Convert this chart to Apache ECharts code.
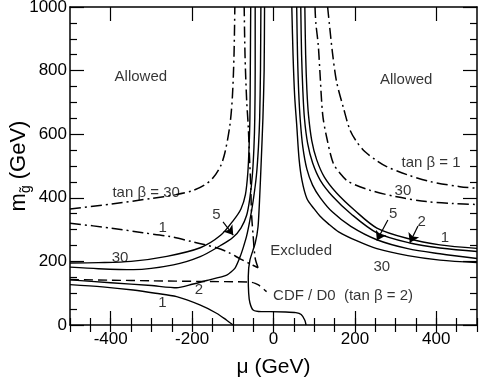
<!DOCTYPE html>
<html>
<head>
<meta charset="utf-8">
<script src="https://cdn.jsdelivr.net/npm/echarts@6/dist/echarts.min.js"></script>
<style>
  html, body { margin: 0; padding: 0; background: #fff; }
  #chart { width: 479px; height: 382px; }
</style>
</head>
<body>
<div id="chart"></div>
<script>
// tick values
var xMajor = [-400, -200, 0, 200, 400]

// solid contours (tan beta = 30, 5, 2, 1), right branch
var r30 = [[45,1000],[48,850],[52,720],[57,630],[63,520],[70,455],[82,398],[100,365],[114,343],[135,318],[160,293],[204,265],[254,240],[330,218],[409,204],[500,196]]
var r5 = [[57,1000],[59,850],[62,730],[66,640],[72,560],[82,490],[96,440],[115,400],[145,355],[190,310],[254,268],[330,240],[409,224],[500,209]]
var r2 = [[67,1000],[69,850],[72,740],[76,650],[84,570],[96,510],[115,455],[145,405],[190,350],[254,290],[335,258],[409,242],[500,231]]
var r1 = [[77,1000],[79,850],[82,740],[86,660],[94,580],[106,520],[125,465],[155,415],[200,360],[254,305],[330,272],[409,252],[500,241]]

// solid contours, left branch
var lUpper = [[-56,1000],[-57,800],[-58,650],[-60,560],[-63,480],[-69,410],[-80,365],[-98,330],[-130,282],[-180,243],[-262,216],[-350,200],[-430,196],[-500,195]]
var lLower = [[-45,1000],[-45,800],[-46,650],[-48,560],[-52,470],[-58,400],[-66,345],[-80,305],[-100,275],[-130,250],[-180,215],[-246,189],[-344,174],[-430,177],[-500,182]]
var l2 = [[-31,1000],[-32,800],[-34,650],[-37,560],[-42,470],[-50,390],[-58,330],[-66,280],[-74,245],[-82,215],[-95,178],[-115,157],[-164,140],[-200,128],[-238,117],[-300,124],[-400,133],[-500,142]]
var l1 = [[-500,127],[-420,120],[-345,110],[-290,100],[-238,89],[-181,63],[-140,37],[-115,15],[-99,0]]
var excluded = [[-22,1000],[-23,800],[-26,650],[-30,520],[-34,400],[-38,309],[-45,257],[-58,204],[-62,152],[-61,100],[-58,70],[-50,47],[-30,42],[-9,42],[30,41],[55,39],[68,33],[77,15],[80,0]]

// CDF/D0 limit
var cdf = [[-500,143],[-400,141],[-300,139],[-181,137],[-58,135],[-45,131],[-37,126],[-27,116],[-17,105]]

// dash-dot contours
var dd30Left = [[-500,365],[-400,380],[-300,398],[-240,410],[-200,422],[-170,440],[-149,462],[-130,500],[-119,544],[-107,630],[-101,718],[-97,850],[-95,1000]]
var dd1Left = [[-500,320],[-400,305],[-321,290],[-254,278],[-200,262],[-164,251],[-140,243],[-110,228],[-82,208],[-60,194],[-38,180]]
var dd1LeftUp = [[-38,180],[-45,210],[-50,280],[-54,352],[-56,440],[-59,529],[-62,624],[-66,708],[-70,850],[-72,1000]]
var dd30Right = [[102,1000],[104,950],[110,880],[114,797],[121,660],[131,588],[147,508],[165,475],[184,451],[237,424],[303,403],[376,388],[442,382],[500,379]]
var dd1Right = [[133,1000],[137,950],[145,855],[155,765],[172,682],[188,613],[205,575],[225,545],[250,520],[278,498],[330,472],[385,451],[458,435],[500,430]]

// text labels [x, y, text]
var notes = [
    [-326, 780, 'Allowed'],
    [326, 770, 'Allowed'],
    [387, 509, 'tan β = 1'],
    [318, 421, '30'],
    [-313, 415, 'tan β = 30'],
    [-272, 305, '1'],
    [-377, 211, '30'],
    [-140, 346, '5'],
    [-183, 110, '2'],
    [-273, 70, '1'],
    [68, 233, 'Excluded'],
    [266, 183, '30'],
    [294, 349, '5'],
    [364, 325, '2'],
    [421, 273, '1']
]
var cdfNote = [-1, 91, 'CDF / D0  (tan β = 2)']

// arrows [x0, y0, x1, y1]
var arrows = [
    [-124, 324, -99, 283],
    [281, 330, 254, 266],
    [355, 311, 335, 259]
]

var myChart = echarts.init(document.getElementById('chart'))
var font = 'Liberation Sans, Arial, Helvetica, sans-serif'

function solid(d, extra) {
    var s = {
        type: 'line', data: d, symbol: 'none', smooth: 0.3, silent: true,
        xAxisIndex: 0, yAxisIndex: 0,
        lineStyle: { color: '#000', width: 1.4 }
    }
    return Object.assign(s, extra || {})
}
function dashdot(d) {
    return solid(d, { lineStyle: { color: '#000', width: 1.5, type: [11, 4, 2, 4] } })
}

var xBase = {
    type: 'value', min: -500, max: 500,
    splitLine: { show: false },
    axisLine: { onZero: false, lineStyle: { color: '#000', width: 1.5 } }
}
function xMaj(pos, labels) {
    return Object.assign({}, xBase, {
        position: pos,
        axisTick: { inside: true, length: 14, customValues: xMajor, lineStyle: { color: '#000', width: 1.2 } },
        axisLabel: labels ? { customValues: xMajor, fontSize: 17, color: '#000', margin: 6, fontFamily: font } : { show: false }
    })
}
function xMin(pos) {
    return Object.assign({}, xBase, {
        position: pos, interval: 50,
        axisLine: { show: false },
        axisTick: { inside: true, length: 7, lineStyle: { color: '#000', width: 1.2 } },
        axisLabel: { show: false }
    })
}
function yAx(pos, labels) {
    return {
        type: 'value', min: 0, max: 1000, interval: 200, position: pos,
        splitLine: { show: false },
        axisLine: { onZero: false, lineStyle: { color: '#000', width: 1.5 } },
        axisTick: { inside: true, length: 14, lineStyle: { color: '#000', width: 1.2 } },
        minorTick: { show: true, splitNumber: 4, length: 7, lineStyle: { color: '#000', width: 1.2 } },
        axisLabel: labels ? {
            fontSize: 17, color: '#000', margin: 3, fontFamily: font,
            formatter: function (v) { return String(v) }
        } : { show: false }
    }
}

var xBottom = xMaj('bottom', true)
xBottom.name = 'μ (GeV)'
xBottom.nameLocation = 'middle'
xBottom.nameGap = 32
xBottom.nameTextStyle = { fontSize: 21, color: '#000', fontFamily: font }

var yLeft = yAx('left', true)
yLeft.name = '{m|m}{s|g̃}{m| (GeV)}'
yLeft.nameLocation = 'middle'
yLeft.nameGap = 37
yLeft.nameMoveOverlap = false
yLeft.nameTextStyle = {
    color: '#000', fontFamily: font,
    rich: {
        m: { fontSize: 22, color: '#000', fontFamily: font },
        s: { fontSize: 14, color: '#000', fontFamily: font, padding: [14, 0, 0, 0] }
    }
}

var option = {
    animation: false,
    grid: { left: 70, right: 2, top: 7, bottom: 57, containLabel: false, outerBoundsMode: 'none' },
    xAxis: [xBottom, xMin('bottom'), xMaj('top', false), xMin('top')],
    yAxis: [yLeft, yAx('right', false)],
    series: [
        solid(r30), solid(r5), solid(r2), solid(r1),
        solid(lUpper), solid(lLower), solid(l2, { smooth: 0.2 }), solid(l1),
        solid(excluded, {
            smooth: 0.2,
            markLine: {
                silent: true, animation: false,
                symbol: ['none', 'arrow'], symbolSize: 9,
                label: { show: false },
                lineStyle: { color: '#000', type: 'solid', width: 1.2 },
                data: arrows.map(function (a) { return [{ coord: [a[0], a[1]] }, { coord: [a[2], a[3]] }] })
            }
        }),
        solid(cdf, { lineStyle: { color: '#000', width: 1.4, type: [9, 5] } }),
        dashdot(dd30Left), dashdot(dd1Left), dashdot(dd1LeftUp), dashdot(dd30Right), dashdot(dd1Right),
        {
            type: 'scatter', silent: true, symbolSize: 1,
            itemStyle: { color: 'rgba(0,0,0,0)' },
            label: {
                show: true, position: 'inside', color: '#000', fontSize: 15, fontFamily: font,
                formatter: function (p) { return p.data.value ? p.data.value[2] : p.data[2] }
            },
            data: notes.concat([{ value: cdfNote, label: { align: 'left' } }])
        }
    ]
}
myChart.setOption(option)
window.addEventListener('resize', function () { myChart.resize() })
</script>
</body>
</html>
